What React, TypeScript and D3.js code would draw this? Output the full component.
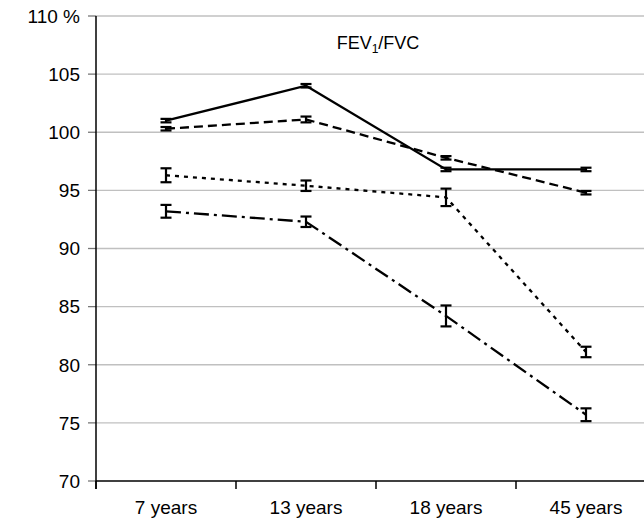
import * as d3 from "d3";

const categories = ["7 years", "13 years", "18 years", "45 years"];
const yTicks = [70, 75, 80, 85, 90, 95, 100, 105, 110];

// mean and half error for each series
const solidVals = [101.0, 104.0, 96.8, 96.8];
const solidErr = [0.15, 0.15, 0.15, 0.15];
const dashedVals = [100.3, 101.1, 97.8, 94.8];
const dashedErr = [0.15, 0.25, 0.15, 0.15];
const dottedVals = [96.3, 95.4, 94.4, 81.1];
const dottedErr = [0.6, 0.45, 0.75, 0.45];
const dashDotVals = [93.2, 92.3, 84.2, 75.7];
const dashDotErr = [0.55, 0.45, 0.9, 0.55];

const series = [
  { name: "solid", values: solidVals, err: solidErr, dash: "none" },
  { name: "dashed", values: dashedVals, err: dashedErr, dash: "9,5" },
  { name: "dotted", values: dottedVals, err: dottedErr, dash: "4,5" },
  { name: "dashdot", values: dashDotVals, err: dashDotErr, dash: "15,5,3,5" },
];

const width = 644;
const height = 519;
const margin = { top: 16, left: 96, bottom: 38 };
const plotRight = 656;

const App = () => {
  const x = d3
    .scaleBand()
    .domain(categories)
    .range([margin.left, plotRight]);
  const y = d3
    .scaleLinear()
    .domain([70, 110])
    .range([height - margin.bottom, margin.top]);

  const cx = (c: string) => (x(c) as number) + x.bandwidth() / 2;
  const line = d3
    .line<number>()
    .x((_, i) => cx(categories[i]))
    .y((d) => y(d));

  const font = "Liberation Sans, Arial, sans-serif";
  const capW = 5.5;

  return (
    <svg
      width={width}
      height={height}
      style={{ position: "absolute", left: 0, top: 0, background: "#fff" }}
      fontFamily={font}
    >
      {/* grid lines */}
      {yTicks.map((t) => (
        <g key={t}>
          {t > 70 && (
            <line
              x1={margin.left}
              x2={width}
              y1={y(t)}
              y2={y(t)}
              stroke="#c0c0c0"
              strokeWidth={1.3}
            />
          )}
          <line
            x1={margin.left - 8}
            x2={margin.left}
            y1={y(t)}
            y2={y(t)}
            stroke="#777"
            strokeWidth={1.3}
          />
          <text
            x={80}
            y={y(t)}
            dy="0.36em"
            textAnchor="end"
            fontSize={19}
            fill="#000"
          >
            {t === 110 ? "110 %" : t}
          </text>
        </g>
      ))}

      {/* axes */}
      <line
        x1={margin.left}
        x2={margin.left}
        y1={y(110)}
        y2={y(70) + 8}
        stroke="#000"
        strokeWidth={1.5}
      />
      <line
        x1={margin.left}
        x2={width}
        y1={y(70)}
        y2={y(70)}
        stroke="#000"
        strokeWidth={1.5}
      />
      {categories.map((c) => (
        <g key={c}>
          <line
            x1={x(c) as number}
            x2={x(c) as number}
            y1={y(70)}
            y2={y(70) + 8}
            stroke="#000"
            strokeWidth={1.5}
          />
          <text
            x={cx(c)}
            y={y(70) + 33}
            textAnchor="middle"
            fontSize={19}
            fill="#000"
          >
            {c}
          </text>
        </g>
      ))}

      {/* title */}
      <text x={378} y={49} textAnchor="middle" fontSize={18} fill="#000">
        FEV
        <tspan fontSize={12} dy={4}>
          1
        </tspan>
        <tspan dy={-4}>/FVC</tspan>
      </text>

      {/* series lines */}
      {series.map((s) => (
        <path
          key={s.name}
          d={line(s.values) as string}
          fill="none"
          stroke="#000"
          strokeWidth={2.3}
          strokeDasharray={s.dash}
        />
      ))}

      {/* error bars */}
      {series.map((s) =>
        s.values.map((v, i) => {
          const px = cx(categories[i]);
          const top = y(v + s.err[i]);
          const bot = y(v - s.err[i]);
          return (
            <g key={s.name + i} stroke="#000" strokeWidth={2.2}>
              <line x1={px} x2={px} y1={top} y2={bot} />
              <line x1={px - capW} x2={px + capW} y1={top} y2={top} />
              <line x1={px - capW} x2={px + capW} y1={bot} y2={bot} />
            </g>
          );
        })
      )}
    </svg>
  );
};

export default App;
